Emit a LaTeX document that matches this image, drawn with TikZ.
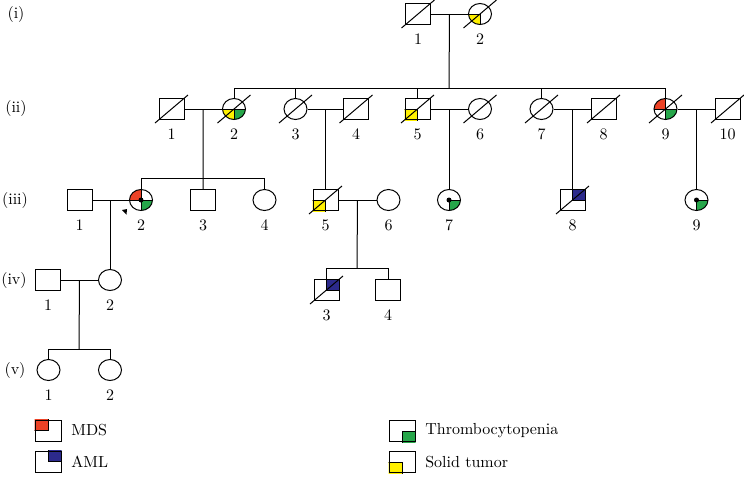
\documentclass[tikz,border=0pt]{standalone}
\usepackage{fontspec}
\setmainfont{lmroman10-regular}[Extension=.otf]
\usetikzlibrary{shapes.geometric,positioning,backgrounds}
\definecolor{mdsred}{RGB}{236,66,38}
\definecolor{amlblue}{RGB}{44,42,140}
\definecolor{thrgreen}{RGB}{38,166,74}
\definecolor{tumyellow}{RGB}{255,240,0}

\begin{document}
\begin{tikzpicture}[
        x=1pt, y=-1pt, line width=1pt,
        every node/.style={font=\fontsize{16}{19}\selectfont},
        male/.style={draw, rectangle, minimum width=25pt, minimum height=21pt, inner sep=0pt},
        female/.style={draw, ellipse, minimum width=23pt, minimum height=21pt, inner sep=0pt},
        legbox/.style={draw, rectangle, minimum width=26pt, minimum height=21pt, inner sep=0pt},
        every label/.style={inner sep=2pt},
        label distance=6pt
    ]
        \useasboundingbox (0,0) rectangle (744,488);

        % generations
        \node (gi) at (16,14) {(i)};
        \node (gii) at (16,108) {(ii)};
        \node (giii) at (15,200) {(iii)};
        \node (giv) at (14,280) {(iv)};
        \node (gv) at (15,370) {(v)};

        % (i)
        \node[male, label=below:1] (i1) at (418,14) {};
        \node[female, label=below:2] (i2) at (480,14) {};

        % (ii)
        \node[male, label=below:1] (ii1) at (171.5,109) {};
        \node[female, label=below:2] (ii2) at (234,109) {};
        \node[female, label=below:3] (ii3) at (295.5,109) {};
        \node[male, label=below:4] (ii4) at (356,109) {};
        \node[male, label=below:5] (ii5) at (417.5,109) {};
        \node[female, label=below:6] (ii6) at (480,109) {};
        \node[female, label=below:7] (ii7) at (541.5,109) {};
        \node[male, label=below:8] (ii8) at (603.5,109) {};
        \node[female, label=below:9] (ii9) at (665.5,109) {};
        \node[male, label=below:10] (ii10) at (727.5,109) {};

        % (iii)
        \node[male, label=below:1] (iii1) at (79.5,200) {};
        \node[female, label=below:2] (iii2) at (141,200) {};
        \node[male, label=below:3] (iii3) at (203,200) {};
        \node[female, label=below:4] (iii4) at (264.5,200) {};
        \node[male, label=below:5] (iii5) at (325.5,200) {};
        \node[female, label=below:6] (iii6) at (388.5,200) {};
        \node[female, label=below:7] (iii7) at (449,200) {};
        \node[male, label=below:8] (iii8) at (572.5,200) {};
        \node[female, label=below:9] (iii9) at (696.5,200) {};

        % (iv)
        \node[male, label=below:1] (iv1) at (48,280) {};
        \node[female, label=below:2] (iv2) at (110,280) {};
        \node[male, label=below:3] (iv3) at (326.5,290) {};
        \node[male, label=below:4] (iv4) at (388,290) {};

        % (v)
        \node[female, label=below:1] (v1) at (48.5,370) {};
        \node[female, label=below:2] (v2) at (110,370) {};

        % legend
        \node[legbox] (lmds) at (48,430.5) {};
        \node[legbox] (laml) at (48,461.5) {};
        \node[legbox] (lthr) at (402,431) {};
        \node[legbox] (ltum) at (402,462) {};
        \node[right=6pt of lmds] (tmds) {MDS};
        \node[right=6pt of laml] (taml) {AML};
        \node[right=6pt of lthr] (tthr) {Thrombocytopenia};
        \node[right=6pt of ltum] (ttum) {Solid tumor};

        % couples and children
        \draw (i1) -- coordinate (c1) (i2);
        \coordinate (s2) at (449,88);
        \draw (c1) -- (s2);
        \draw (ii2 |- s2) -- (ii9 |- s2);
        \foreach \n in {ii2,ii3,ii5,ii7,ii9}
            \draw (\n |- s2) -- (\n);

        \draw (ii1) -- coordinate (c21) (ii2);
        \coordinate (s21) at (203,178);
        \draw (c21) -- (s21) -- (iii3);
        \draw (iii2 |- s21) -- (iii4 |- s21);
        \foreach \n in {iii2,iii4}
            \draw (\n |- s21) -- (\n);

        \draw (ii3) -- coordinate (c34) (ii4);
        \draw (c34) -- (c34 |- iii5.north);
        \draw (ii5) -- coordinate (c56) (ii6);
        \draw (c56) -- (c56 |- iii7.north);
        \draw (ii7) -- coordinate (c78) (ii8);
        \draw (c78) -- (c78 |- iii8.north);
        \draw (ii9) -- coordinate (c910) (ii10);
        \draw (c910) -- (c910 |- iii9.north);

        \draw (iii1) -- coordinate (c312) (iii2);
        \draw (c312) -- (c312 |- iv2.north);
        \draw (iii5) -- coordinate (c356) (iii6);
        \coordinate (s356) at (357,268);
        \draw (c356) -- (s356);
        \draw (iv3 |- s356) -- (iv4 |- s356);
        \foreach \n in {iv3,iv4}
            \draw (\n |- s356) -- (\n);

        \draw (iv1) -- coordinate (c412) (iv2);
        \coordinate (s412) at (79,349);
        \draw (c412) -- (s412);
        \draw (v1 |- s412) -- (v2 |- s412);
        \foreach \n in {v1,v2}
            \draw (\n |- s412) -- (\n);

        % affected quadrants
        \begin{scope}[on background layer]
            \foreach \n/\dx/\dy/\c in {ii5/-1/1/tumyellow, iii5/-1/1/tumyellow, iii8/1/-1/amlblue, iv3/1/-1/amlblue,
                lmds/-1/-1/mdsred, laml/1/-1/amlblue, lthr/1/1/thrgreen, ltum/-1/1/tumyellow}{
                \begin{scope}
                    \clip (\n.north west) rectangle (\n.south east);
                    \filldraw[fill=\c] (\n.center) rectangle ++(20*\dx,20*\dy);
                \end{scope}
            }
            \foreach \n/\dx/\dy/\c in {i2/-1/1/tumyellow, ii2/-1/1/tumyellow, ii2/1/1/thrgreen, ii9/-1/-1/mdsred, ii9/1/1/thrgreen,
                iii2/-1/-1/mdsred, iii2/1/1/thrgreen, iii7/1/1/thrgreen, iii9/1/1/thrgreen}{
                \begin{scope}
                    \clip (\n.center) ellipse [x radius=11.5pt, y radius=10.5pt];
                    \filldraw[fill=\c] (\n.center) rectangle ++(15*\dx,15*\dy);
                \end{scope}
            }
        \end{scope}

        % carriers
        \foreach \n in {iii2,iii7,iii9}
            \fill (\n.center) circle (2.5pt);

        % deceased
        \foreach \n in {i1,i2,ii1,ii2,ii3,ii4,ii5,ii6,ii7,ii8,ii9,ii10,iii5,iii8,iv3}
            \draw ([shift={(-16.5,14)}]\n.center) -- ++(33,-28);

        % proband
        \fill ([shift={(-14,9)}]iii2.center) -- ++(-5,1) -- ++(4.5,4.5) -- cycle;

    \end{tikzpicture}
\end{document}
